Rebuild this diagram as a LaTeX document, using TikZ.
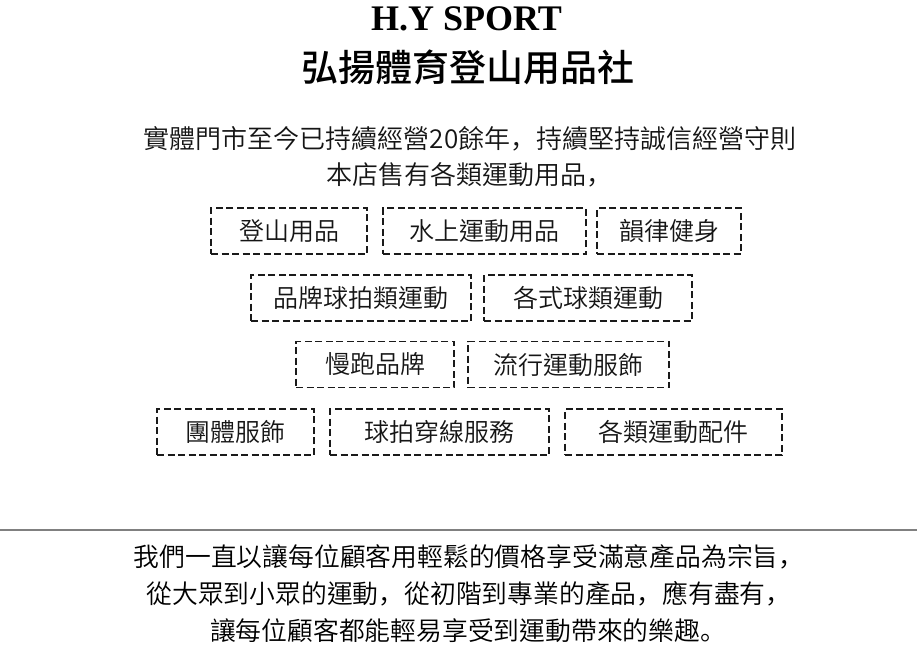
\documentclass[tikz,border=0pt]{standalone}
\usepackage{fontspec}
\setmainfont{Liberation Serif}
\newfontfamily\cjk{Noto Sans CJK TC}
\newfontfamily\cjkl{Noto Sans CJK TC DemiLight}
\newfontfamily\cjkm{Noto Sans CJK TC Medium}
\newfontfamily\cjksc{Noto Sans CJK SC}
\newfontfamily\cjkscl{Noto Sans CJK SC DemiLight}
\definecolor{txt}{HTML}{151515}
\definecolor{boxc}{HTML}{1A1A1A}
\definecolor{linec}{HTML}{808080}
\begin{document}
\begin{tikzpicture}[x=1pt,y=-1pt,
  box/.style={draw=boxc, dash pattern=on 7pt off 3.5pt, line width=1.8pt, inner sep=0pt,
    minimum height=46pt, text=txt, font=\cjkl\fontsize{25}{28}\selectfont},
  body/.style={anchor=base, inner sep=0pt, text=txt, font=\cjkl\fontsize{26}{30}\selectfont},
  foot/.style={anchor=base, inner sep=0pt, text=black, font=\cjkl\fontsize{25.8}{30}\selectfont}]
\fill[white] (0,0) rectangle (917,647);
\useasboundingbox (0,0) rectangle (917,647);
% titles
\node[anchor=base, inner sep=0pt, font=\bfseries\fontsize{36}{40}\selectfont] (t1) at (466.5,31) {H.Y SPORT};
\node[anchor=base, inner sep=0pt, font=\cjkm\fontsize{37}{42}\selectfont] (t2) at (467.5,82) {弘揚體育登山用品社};
% intro
\node[body] (p1) at (470,149) {實體門市至今已持續經營20餘年{\cjkscl，}持續堅持誠信經營守則};
\node[body] (p2) at (469,184) {本店售有各類運動用品{\cjkscl，}};
% boxes row 1
\node[box, minimum width=156pt] (b11) at (289,231) {登山用品};
\node[box, minimum width=203pt] (b12) at (484.5,231) {水上運動用品};
\node[box, minimum width=144pt] (b13) at (669,231) {韻律健身};
% row 2
\node[box, minimum width=220pt] (b21) at (361,298) {品牌球拍類運動};
\node[box, minimum width=208pt] (b22) at (588,298) {各式球類運動};
% row 3
\node[box, minimum width=158pt] (b31) at (375,364.5) {慢跑品牌};
\node[box, minimum width=201pt] (b32) at (568.5,364.5) {流行運動服飾};
% row 4
\node[box, minimum width=157pt] (b41) at (235.5,432) {團體服飾};
\node[box, minimum width=219pt] (b42) at (439.5,432) {球拍穿線服務};
\node[box, minimum width=217pt] (b43) at (673.5,432) {各類運動配件};
% separator
\coordinate (l1) at (0,530);
\coordinate (l2) at (917,530);
\draw[linec, line width=2pt] (l1) -- (l2);
% footer
\node[foot] (f1) at (469,566) {我們一直以讓每位顧客用輕鬆的價格享受滿意產品為宗旨{\cjkscl，}};
\node[foot] (f2) at (469,603) {從大眾到小眾的運動{\cjkscl，}從初階到專業的產品{\cjkscl，}應有盡有{\cjkscl，}};
\node[foot] (f3) at (468,640) {讓每位顧客都能輕易享受到運動帶來的樂趣{\cjkscl。}};
\end{tikzpicture}
\end{document}
